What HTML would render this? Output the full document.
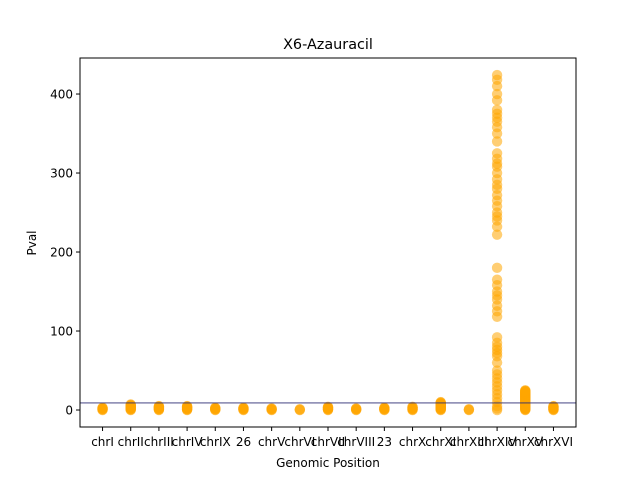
<!DOCTYPE html>
<html><head><meta charset="utf-8"><style>
body{margin:0;background:#fff}
svg{display:block;font-family:"DejaVu Sans","Liberation Sans",sans-serif}
</style></head><body>
<svg id="chart" width="640" height="480"></svg>
<script>
const categories=["chrI","chrII","chrIII","chrIV","chrIX","26","chrV","chrVI","chrVII","chrVIII","23","chrX","chrXI","chrXIII","chrXIV","chrXV","chrXVI"];
const maxVals=[3,7,5,5,3,3,2,1,4,2,3,4,10,1,424,25,5];
const bigVals=[424,418,410,400,392,380,375,370,365,358,350,340,325,318,312,308,300,292,285,280,272,265,258,250,245,240,232,222,180,165,158,150,145,140,132,125,118,92,85,80,76,72,68,60,50,45,40,35,30,25,20,15,10,5,2,0];
const yTicks=[0,100,200,300,400];
const threshold=9;
const NS="http://www.w3.org/2000/svg";
const svg=document.getElementById('chart');
const L=80,R=576,T=58,B=427;
const yMin=-21.5,yMax=445.6,xMin=-0.8,xMax=16.8;
const xs=i=>L+(i-xMin)/(xMax-xMin)*(R-L);
const ys=v=>B-(v-yMin)/(yMax-yMin)*(B-T);
function mk(tag,attrs){const e=document.createElementNS(NS,tag);for(const k in attrs)e.setAttribute(k,attrs[k]);svg.appendChild(e);return e;}
categories.forEach((c,i)=>{
  let vals=[];
  if(maxVals[i]>100){vals=bigVals;}
  else{for(let v=0;v<=maxVals[i];v+=0.5)vals.push(v);}
  vals.forEach(v=>{
    const p=mk('circle',{cx:xs(i),cy:ys(v),r:5.2,fill:'orange','fill-opacity':0.55});
    
    
  });
});
const hl=mk('line',{x1:L,x2:R,y1:ys(threshold),y2:ys(threshold),stroke:'#2a2a70','stroke-width':0.9});


const fr=mk('rect',{x:L,y:T,width:R-L,height:B-T,fill:'none',stroke:'#000','stroke-width':1});


yTicks.forEach(v=>{
  mk('line',{x1:L-4,x2:L,y1:ys(v),y2:ys(v),stroke:'#000'});
  const t=mk('text',{x:L-7,y:ys(v)+4.5,'text-anchor':'end','font-size':12});
  t.textContent=v;
  
  
});
categories.forEach((c,i)=>{
  mk('line',{x1:xs(i),x2:xs(i),y1:B,y2:B+4,stroke:'#000'});
  const t=mk('text',{x:xs(i),y:B+19,'text-anchor':'middle','font-size':12});
  t.textContent=c;
  
  
});
const tt=mk('text',{x:328,y:49,'text-anchor':'middle','font-size':14.4});tt.textContent='X6-Azauracil';


const xt=mk('text',{x:328,y:467,'text-anchor':'middle','font-size':12});xt.textContent='Genomic Position';


const yt=mk('text',{x:36,y:243,'text-anchor':'middle','font-size':12,transform:'rotate(-90 36 243)'});yt.textContent='Pval';


</script>
</body></html>
